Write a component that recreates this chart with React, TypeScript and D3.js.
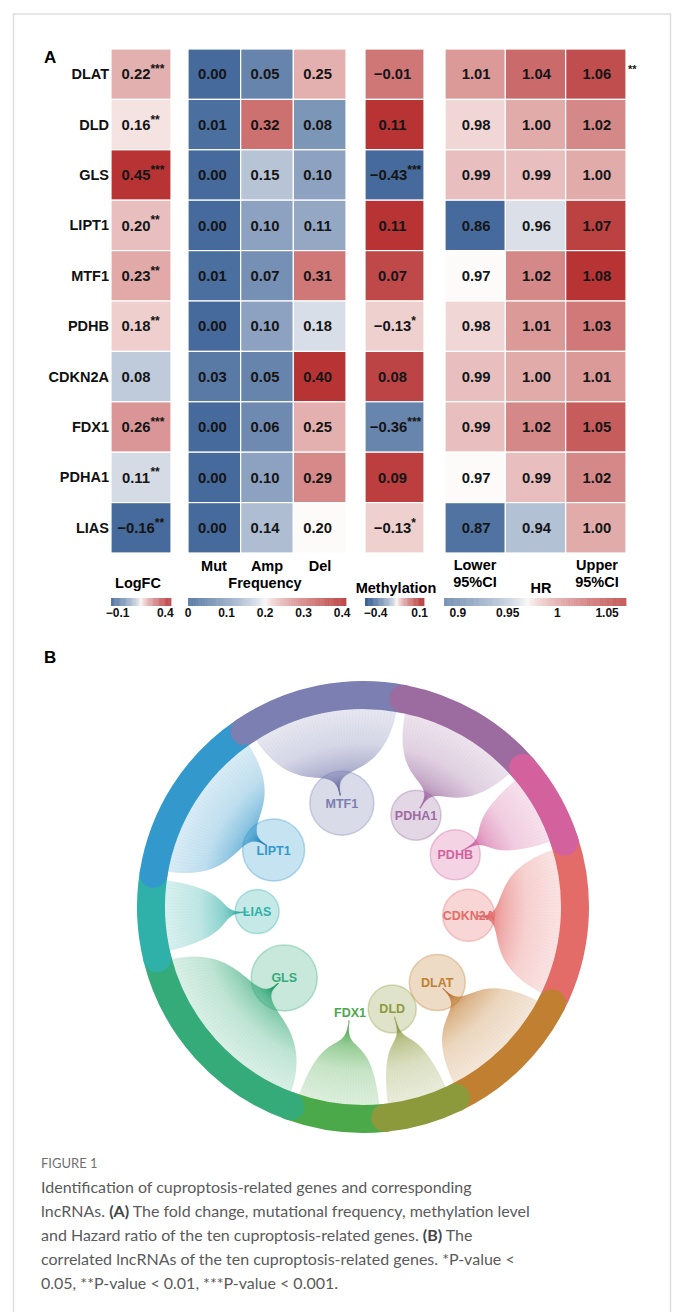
import React from 'react';
import * as d3 from 'd3';

// ---- panel A data ----
const genes = ['DLAT', 'DLD', 'GLS', 'LIPT1', 'MTF1', 'PDHB', 'CDKN2A', 'FDX1', 'PDHA1', 'LIAS'];
const logFC = [0.22, 0.16, 0.45, 0.2, 0.23, 0.18, 0.08, 0.26, 0.11, -0.16];
const logFCSig = ['***', '**', '***', '**', '**', '**', '', '***', '**', '**'];
const mutFreq = [0.0, 0.01, 0.0, 0.0, 0.01, 0.0, 0.03, 0.0, 0.0, 0.0];
const ampFreq = [0.05, 0.32, 0.15, 0.1, 0.07, 0.1, 0.05, 0.06, 0.1, 0.14];
const delFreq = [0.25, 0.08, 0.1, 0.11, 0.31, 0.18, 0.4, 0.25, 0.29, 0.2];
const methylation = [-0.01, 0.11, -0.43, 0.11, 0.07, -0.13, 0.08, -0.36, 0.09, -0.13];
const methSig = ['', '', '***', '', '', '*', '', '***', '', '*'];
const hrLower = [1.01, 0.98, 0.99, 0.86, 0.97, 0.98, 0.99, 0.99, 0.97, 0.87];
const hrValue = [1.04, 1.0, 0.99, 0.96, 1.02, 1.01, 1.0, 1.02, 0.99, 0.94];
const hrUpper = [1.06, 1.02, 1.0, 1.07, 1.08, 1.03, 1.01, 1.05, 1.02, 1.0];
const hrSig = ['**', '', '', '', '', '', '', '', '', ''];

const logFCTicks = [-0.1, 0.4];
const freqTicks = [0, 0.1, 0.2, 0.3, 0.4];
const methTicks = [-0.4, 0.1];
const hrTicks = [0.9, 0.95, 1, 1.05];

// ---- panel B data ----
const ringGenes = ['MTF1', 'PDHA1', 'PDHB', 'CDKN2A', 'DLAT', 'DLD', 'FDX1', 'GLS', 'LIAS', 'LIPT1'];
const lncCounts = [45, 38, 23, 45, 37, 20, 26, 56, 23, 47];
const bubbleSizes = [32, 25, 25, 26, 28, 24, 0, 33, 22, 31];
const ringColors = ['#7b7fb1', '#9c6ba0', '#d3619d', '#e36b68', '#c17f32', '#8c9a3c', '#4ba94a', '#35ab7a', '#2fb0a8', '#3399cc'];
const drawOrder = ['FDX1', 'GLS', 'LIAS', 'LIPT1', 'MTF1', 'PDHA1', 'CDKN2A', 'PDHB', 'DLAT', 'DLD'];

const captionLines = [
  'Identification of cuproptosis-related genes and corresponding',
  'lncRNAs. |(A)| The fold change, mutational frequency, methylation level',
  'and Hazard ratio of the ten cuproptosis-related genes. |(B)| The',
  'correlated lncRNAs of the ten cuproptosis-related genes. *P-value <',
  '0.05, **P-value < 0.01, ***P-value < 0.001.',
];

const FONT = '"Liberation Sans", Arial, Helvetica, sans-serif';
const BLUE = '#456a9b';
const WHITE = '#fdfbfa';
const RED = '#b83434';

// diverging palette, white at the middle of the data range
function divScale(values: number[]) {
  const lo = d3.min(values) as number;
  const hi = d3.max(values) as number;
  const toBlue = d3.interpolateRgb(WHITE, BLUE);
  const toRed = d3.interpolateRgb(WHITE, RED);
  return d3
    .scaleDiverging<string>()
    .domain([lo, (lo + hi) / 2, hi])
    .interpolator((t) => {
      const u = 2 * t - 1;
      const s = Math.pow(Math.abs(u), 0.7);
      return u < 0 ? toBlue(s) : toRed(s);
    });
}

const fmt2 = d3.format('.2f');
const fmtTick = d3.format('');

function numWidth(s: string, size: number) {
  let w = 0;
  for (const c of s) w += c === '.' ? 0.278 : c === '\u2212' ? 0.584 : 0.556;
  return w * size;
}

function Heatmap() {
  const y = d3.scaleBand<string>().domain(genes).range([49, 553]);
  const freqScale = divScale([...mutFreq, ...ampFreq, ...delFreq]);
  const hrScale = divScale([...hrLower, ...hrValue, ...hrUpper]);
  const fs = 14.8;

  const groups = [
    { x0: 111, x1: 171, dx: -5, scale: divScale(logFC), cols: [{ name: 'LogFC', values: logFC, sig: logFCSig }] },
    {
      x0: 188, x1: 346, dx: -2, scale: freqScale,
      cols: [
        { name: 'Mut', values: mutFreq, sig: null },
        { name: 'Amp', values: ampFreq, sig: null },
        { name: 'Del', values: delFreq, sig: null },
      ],
    },
    { x0: 365, x1: 424, dx: -2, scale: divScale(methylation), cols: [{ name: 'Methylation', values: methylation, sig: methSig }] },
    {
      x0: 445, x1: 626, dx: 1, scale: hrScale,
      cols: [
        { name: 'Lower', values: hrLower, sig: null },
        { name: 'HR', values: hrValue, sig: null },
        { name: 'Upper', values: hrUpper, sig: null },
      ],
    },
  ];

  const legends = [
    { x0: 111, x1: 171, domain: [-0.17, 0.46], ticks: logFCTicks, scale: groups[0].scale },
    { x0: 188, x1: 346, domain: [0, 0.41], ticks: freqTicks, scale: freqScale },
    { x0: 365, x1: 424, domain: [-0.52, 0.15], ticks: methTicks, scale: groups[2].scale },
    { x0: 444, x1: 626, domain: [0.886, 1.069], ticks: hrTicks, scale: hrScale },
  ];

  return (
    <g fontFamily={FONT} fontWeight="bold">
      <text x={44} y={63} fontSize={17}>A</text>
      {genes.map((g) => (
        <text key={g} x={109} y={(y(g) as number) + y.bandwidth() / 2 + 5} textAnchor="end" fontSize={14.5} fill="#111">
          {g}
        </text>
      ))}
      {groups.map((grp, gi) => {
        const x = d3.scaleBand<string>().domain(grp.cols.map((c) => c.name)).range([grp.x0, grp.x1]);
        return (
          <g key={gi}>
            {grp.cols.map((col) =>
              col.values.map((v, i) => {
                const yy = y(genes[i]) as number;
                const xx = x(col.name) as number;
                const label = fmt2(v);
                const star = col.sig ? col.sig[i] : '';
                const cxT = xx + x.bandwidth() / 2 + grp.dx - (star.length === 3 && gi === 2 ? 4 : 0);
                const cyT = yy + y.bandwidth() / 2;
                return (
                  <g key={col.name + i}>
                    <rect x={xx} y={yy} width={x.bandwidth()} height={y.bandwidth()} fill={grp.scale(v)} stroke="#fff" strokeWidth={1.2} />
                    <text x={cxT} y={cyT + 5.2} textAnchor="middle" fontSize={fs} fill="#151515">
                      {label}
                    </text>
                    {star && (
                      <text x={cxT + numWidth(label, fs) / 2} y={cyT - 1} fontSize={12} fill="#151515">
                        {star}
                      </text>
                    )}
                  </g>
                );
              })
            )}
          </g>
        );
      })}
      {hrSig.map((s, i) =>
        s ? (
          <text key={'hs' + i} x={628} y={(y(genes[i]) as number) + y.bandwidth() / 2 - 1} fontSize={11} fill="#151515">
            {s}
          </text>
        ) : null
      )}

      {/* column annotations */}
      <text x={214} y={571} textAnchor="middle" fontSize={14.5}>Mut</text>
      <text x={267} y={571} textAnchor="middle" fontSize={14.5}>Amp</text>
      <text x={320} y={571} textAnchor="middle" fontSize={14.5}>Del</text>
      <text x={138} y={588} textAnchor="middle" fontSize={14.5}>LogFC</text>
      <text x={265} y={588} textAnchor="middle" fontSize={14.5}>Frequency</text>
      <text x={396} y={593} textAnchor="middle" fontSize={14.5}>Methylation</text>
      <text x={475} y={570} textAnchor="middle" fontSize={14.5}>Lower</text>
      <text x={475} y={587} textAnchor="middle" fontSize={14.5}>95%CI</text>
      <text x={541} y={593} textAnchor="middle" fontSize={14.5}>HR</text>
      <text x={597} y={570} textAnchor="middle" fontSize={14.5}>Upper</text>
      <text x={597} y={587} textAnchor="middle" fontSize={14.5}>95%CI</text>

      {legends.map((lg, li) => {
        const sx = d3.scaleLinear().domain(lg.domain).range([lg.x0, lg.x1]);
        const n = 70;
        const step = (lg.x1 - lg.x0) / n;
        return (
          <g key={'lg' + li}>
            {d3.range(n).map((k) => (
              <rect
                key={k}
                x={lg.x0 + k * step}
                y={598}
                width={step + 0.4}
                height={8}
                fill={lg.scale(sx.invert(lg.x0 + (k + 0.5) * step))}
                opacity={0.85}
              />
            ))}
            {lg.ticks.map((t) => (
              <text key={t} x={sx(t)} y={617} textAnchor="middle" fontSize={12} fill="#111">
                {fmtTick(t)}
              </text>
            ))}
          </g>
        );
      })}
    </g>
  );
}

function Network() {
  const cx = 363;
  const cy = 907;
  const ringR = 212;
  const ringW = 28;
  const fanR = 205;
  const nodeR = 106;
  const tipR = 114;
  const rad = Math.PI / 180;

  const arcs = d3
    .pie<number>()
    .sort(null)
    .value((d) => d)
    .startAngle(-34 * rad)
    .endAngle(326 * rad)(lncCounts);

  const polar = (a: number, r: number): [number, number] => [cx + r * Math.sin(a), cy - r * Math.cos(a)];

  const linkPath = (a: number, m: number) => {
    const p = d3.path();
    p.moveTo(...polar(a, fanR));
    p.bezierCurveTo(...polar(a, 122), ...polar(m, 152), ...polar(m, tipR));
    return p.toString();
  };

  const fanPath = (a0: number, a1: number, m: number) => {
    const p = d3.path();
    p.moveTo(...polar(a0, fanR));
    p.bezierCurveTo(...polar(a0, 122), ...polar(m, 152), ...polar(m, tipR));
    p.bezierCurveTo(...polar(m, 152), ...polar(a1, 122), ...polar(a1, fanR));
    p.arc(cx, cy, fanR, a1 - Math.PI / 2, a0 - Math.PI / 2, true);
    p.closePath();
    return p.toString();
  };

  const ringPath = (a0: number, a1: number) => {
    const p = d3.path();
    p.arc(cx, cy, ringR, a0 - Math.PI / 2, a1 - Math.PI / 2, false);
    return p.toString();
  };

  const items = ringGenes.map((g, i) => {
    const a = arcs[i];
    const m = (a.startAngle + a.endAngle) / 2;
    return { g, i, a, m, color: ringColors[i] };
  });

  const tipOff = tipR / fanR;

  return (
    <g>
      <defs>
        {items.map((it) => (
          <radialGradient key={'gr' + it.g} id={'fan-' + it.g} gradientUnits="userSpaceOnUse" cx={cx} cy={cy} r={fanR}>
            <stop offset={0} stopColor={it.color} stopOpacity={1} />
            <stop offset={tipOff} stopColor={it.color} stopOpacity={0.95} />
            <stop offset={0.68} stopColor={it.color} stopOpacity={0.55} />
            <stop offset={0.8} stopColor={it.color} stopOpacity={0.3} />
            <stop offset={1} stopColor={it.color} stopOpacity={0.16} />
          </radialGradient>
        ))}
      </defs>
      <text x={44} y={663} fontSize={17} fontWeight="bold" fontFamily={FONT}>B</text>
      {items.map((it) => {
        const [x, y] = polar(it.m, nodeR);
        return bubbleSizes[it.i] > 0 ? (
          <circle key={'b' + it.g} cx={x} cy={y} r={bubbleSizes[it.i]} fill={it.color} fillOpacity={0.28} stroke={it.color} strokeOpacity={0.35} strokeWidth={1.5} />
        ) : null;
      })}
      {items.map((it) => {
        const pad = 1.2 * rad;
        const a0 = it.a.startAngle + pad;
        const a1 = it.a.endAngle - pad;
        const n = lncCounts[it.i];
        const links = d3.range(n).map((j) => a0 + ((j + 0.5) * (a1 - a0)) / n);
        return (
          <g key={'f' + it.g}>
            <path d={fanPath(a0, a1, it.m)} fill={`url(#fan-${it.g})`} />
            {links.map((a, j) => (
              <path key={j} d={linkPath(a, it.m)} fill="none" stroke={it.color} strokeOpacity={0.035} strokeWidth={1.2} />
            ))}
          </g>
        );
      })}
      {drawOrder.map((g) => {
        const it = items[ringGenes.indexOf(g)];
        return (
          <path key={'r' + g} d={ringPath(it.a.startAngle, it.a.endAngle)} fill="none" stroke={it.color} strokeWidth={ringW} strokeLinecap="round" />
        );
      })}
      {items.map((it) => {
        const [x, y] = polar(it.m, nodeR);
        return (
          <text key={'t' + it.g} x={x} y={y + 4.5} textAnchor="middle" fontSize={12.5} fontWeight="bold" fontFamily={FONT} fill={it.color}>
            {it.g}
          </text>
        );
      })}
    </g>
  );
}

function Caption() {
  return (
    <g fontFamily="Lato, 'Open Sans', sans-serif">
      <text x={41} y={1168} fontSize={13} fill="#707070">FIGURE 1</text>
      {captionLines.map((line, i) => (
        <text key={i} x={41} y={1193 + i * 24} fontSize={16} fill="#5a5a5a">
          {line.split('|').map((part, k) => (
            <tspan key={k} fontWeight={k % 2 === 1 ? 'bold' : 'normal'} fill={k % 2 === 1 ? '#444' : '#5a5a5a'}>
              {part}
            </tspan>
          ))}
        </text>
      ))}
    </g>
  );
}

export default function App() {
  return (
    <svg
      width={677}
      height={1312}
      viewBox="0 0 677 1312"
      style={{ position: 'absolute', left: 0, top: 0, background: '#fff' }}
    >
      <rect x={13.5} y={14} width={657} height={1320} fill="#fff" stroke="#dedede" strokeWidth={1.5} />
      <Heatmap />
      <Network />
      <Caption />
    </svg>
  );
}
